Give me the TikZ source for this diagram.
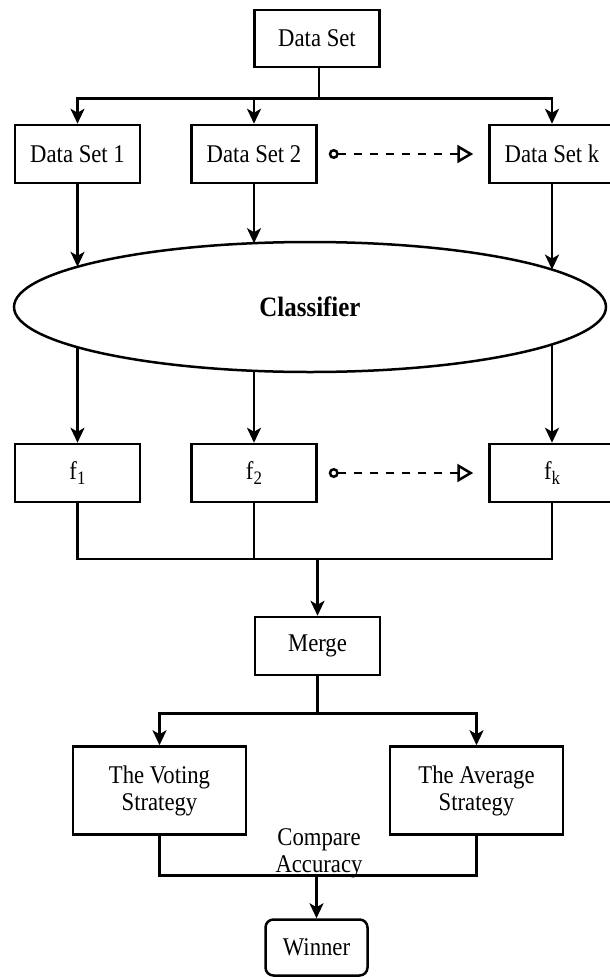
\documentclass[tikz,border=0pt]{standalone}
\usepackage{fontspec}
\usepackage{graphicx}
\setmainfont{Liberation Serif}
\usetikzlibrary{shapes.geometric,arrows.meta,calc}
\newcommand{\sq}[1]{\scalebox{0.89}[1]{#1}}
\newcommand{\fsub}[1]{\sq{f\raisebox{-0.35ex}{\fontsize{19}{19}\selectfont #1}}}
\begin{document}
\begin{tikzpicture}[x=1pt,y=-1pt,
  txt/.style={font=\fontsize{25.5}{27}\selectfont, align=center},
  box/.style={txt, draw, line width=2.5pt, minimum width=125pt, minimum height=58pt, inner sep=0pt},
  conn/.style={line width=2.5pt},
  arr/.style={conn, -{Stealth[length=15pt,width=14pt,inset=4pt]}},
  dashconn/.style={line width=2.5pt, dash pattern=on 8pt off 8pt,
     {Circle[open,length=10pt,width=10pt]}-{Triangle[open,length=16pt,width=18pt]}}]
\useasboundingbox (0,0) rectangle (610,977);
\fill[white] (0,0) rectangle (610,977);

% nodes
\node[box, minimum height=57pt] (ds) at (317,38.5) {\sq{Data Set}};
\node[box] (ds1) at (77.5,154) {\sq{Data Set 1}};
\node[box] (ds2) at (254,154) {\sq{Data Set 2}};
\node[box] (dsk) at (552,154) {\sq{Data Set k}};
\node[draw, ellipse, line width=2.5pt, minimum width=592pt, minimum height=130pt,
      inner sep=0pt, font=\bfseries\fontsize{28}{30}\selectfont] (cls) at (310,307) {\sq{Classifier}};
\node[box] (f1) at (77.5,473) {\fsub{1}};
\node[box] (f2) at (254,473) {\fsub{2}};
\node[box] (fk) at (552,473) {\fsub{k}};
\node[box] (merge) at (317.5,646) {\sq{Merge}};
\node[box, minimum width=173pt, minimum height=88pt] (vote) at (159.5,790.5) {\sq{The Voting}\\\sq{Strategy}};
\node[box, minimum width=173pt, minimum height=88pt] (avg) at (476.5,790.5) {\sq{The Average}\\\sq{Strategy}};
\node[txt, inner sep=0pt] (cmp) at (319,853) {\sq{Compare}\\\sq{Accuracy}};
\node[box, rounded corners=8pt, minimum width=102pt, minimum height=56pt] (win) at (316.5,947.5) {\sq{Winner}};

% coordinates
\coordinate (j1) at ($(ds.south)+(2,30)$);
\coordinate (ci1) at ($(cls.center)+(-232.5,-40.2)$);
\coordinate (ci2) at ($(cls.center)+(-56,-63.8)$);
\coordinate (cik) at ($(cls.center)+(242,-37.4)$);
\coordinate (co1) at ($(cls.center)+(-232.5,40.2)$);
\coordinate (co2) at ($(cls.center)+(-56,63.8)$);
\coordinate (cok) at ($(cls.center)+(242,37.4)$);
\coordinate (j2) at ($(merge.north)+(0,-57)$);
\coordinate (j3) at ($(merge.south)+(0,37)$);
\coordinate (j4) at ($(win.north)+(0,-43)$);
\coordinate (d1s) at ($(ds2.east)+(11,0)$);
\coordinate (d1e) at ($(dsk.west)+(-15,0)$);
\coordinate (d2s) at ($(f2.east)+(11,0)$);
\coordinate (d2e) at ($(fk.west)+(-15,0)$);

% connectors
\draw[conn] (ds.south -| j1) -- (j1);
\draw[arr] (j1) -| (ds1.north);
\draw[arr] (j1) -| (ds2.north);
\draw[arr] (j1) -| (dsk.north);
\draw[dashconn] (d1s) -- (d1e);

\draw[arr] (ds1.south) -- (ci1);
\draw[arr] (ds2.south) -- (ci2);
\draw[arr] (dsk.south) -- (cik);
\draw[arr] (co1) -- (f1.north);
\draw[arr] (co2) -- (f2.north);
\draw[arr] (cok) -- (fk.north);
\draw[dashconn] (d2s) -- (d2e);

\draw[conn] (f1.south) |- (j2);
\draw[conn] (f2.south) |- (j2);
\draw[conn] (fk.south) |- (j2);
\draw[arr] (j2) -- (merge.north);

\draw[conn] (merge.south) -- (j3);
\draw[arr] (j3) -| (vote.north);
\draw[arr] (j3) -| (avg.north);

\draw[conn] (vote.south) |- (j4);
\draw[conn] (avg.south) |- (j4);
\draw[arr] (j4) -- (win.north);
\end{tikzpicture}
\end{document}
